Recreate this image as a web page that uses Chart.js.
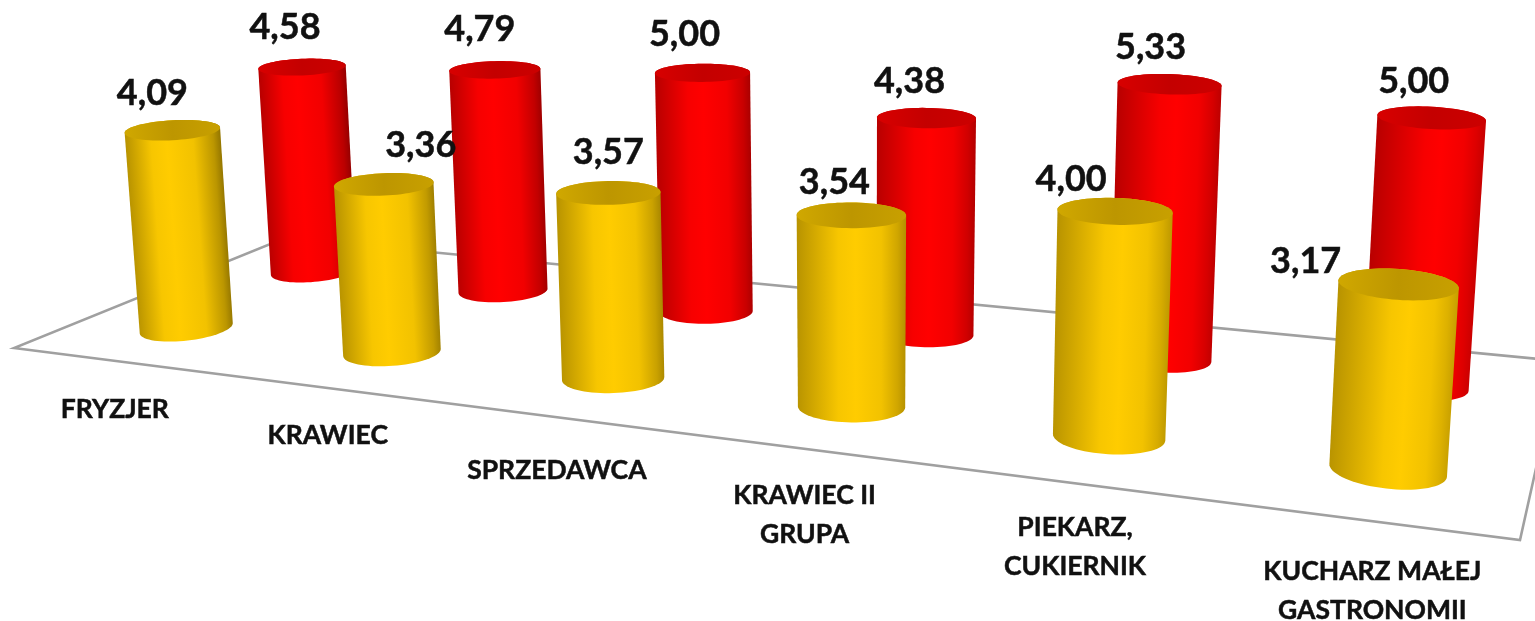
<!DOCTYPE html>
<html lang="pl">
<head>
<meta charset="utf-8">
<title>Wykres</title>
<style>html,body{margin:0;padding:0;background:#fff}canvas{display:block}</style>
<script src="https://cdn.jsdelivr.net/npm/chart.js@4/dist/chart.umd.js"></script>
</head>
<body>
<canvas id="c" width="1535" height="621"></canvas>
<script>
const categories = [['FRYZJER'],['KRAWIEC'],['SPRZEDAWCA'],['KRAWIEC II','GRUPA'],['PIEKARZ,','CUKIERNIK'],['KUCHARZ MAŁEJ','GASTRONOMII']];
const yellowValues = [4.09,3.36,3.57,3.54,4.00,3.17];
const redValues = [4.58,4.79,5.00,4.38,5.33,5.00];

/* --- layout and style, no data below this line --- */
const floorCorners = [[14,348],[1520,540],[285,238],[1560,361]]; // front-left, front-right, back-left, back-right
const vanishing = [859,9900];
const heightK = -0.031;
const seriesDepth = [0.25,0.75];
const radiusScale = 48;
const tickDepth = -0.25;
const tickNudge = [[87,14],[89,10],[86,13],[77,23],[62,15],[40,15]];
const tickGap = 39;
const valueNudge = [
  [[-20,-37],[37,-39],[0,-41],[-17,-33],[-44,-32],[-93,-23]],
  [[-17,-40],[-15,-40],[-18,-38],[-17,-37],[-19,-37],[-18,-37]]
];
const skins = [
  {rgb:[255,204,0],cap:['#d0a800','#bd9600','#c8a000']},
  {rgb:[255,0,0],cap:['#d80000','#c40000','#cc0000']}
];

const [P00,P10,P01,P11] = floorCorners;
const d1x=P10[0]-P11[0], d1y=P10[1]-P11[1], d2x=P01[0]-P11[0], d2y=P01[1]-P11[1];
const sx=P00[0]-P10[0]+P11[0]-P01[0], sy=P00[1]-P10[1]+P11[1]-P01[1];
const det=d1x*d2y-d2x*d1y;
const hg=(sx*d2y-d2x*sy)/det, hh=(d1x*sy-sx*d1y)/det;
const ha=P10[0]-P00[0]+hg*P10[0], hb=P01[0]-P00[0]+hh*P01[0], hc=P00[0];
const hd=P10[1]-P00[1]+hg*P10[1], he=P01[1]-P00[1]+hh*P01[1], hf=P00[1];
function project(u,v,h){
  const k=h*heightK;
  const W=hg*u+hh*v+1+k;
  return [(ha*u+hb*v+hc+k*vanishing[0])/W,(hd*u+he*v+hf+k*vanishing[1])/W,W];
}
function ring(c,h){
  const rx=radiusScale/c[2], ry=rx*(0.17+0.0003*c[1]);
  const T=(6.5-3.5*Math.min(1,h/0.7))*Math.PI/180;
  const tilt=(c[0]-790)/600*T, co=Math.cos(tilt), si=Math.sin(tilt);
  const pts=[];
  for(let i=0;i<72;i++){
    const t=i/72*Math.PI*2, ex=rx*Math.cos(t), ey=ry*Math.sin(t);
    pts.push([c[0]+ex*co-ey*si,c[1]+ex*si+ey*co]);
  }
  return pts;
}
function hull(points){
  const p=points.slice().sort((a,b)=>a[0]-b[0]||a[1]-b[1]);
  const cross=(o,a,b)=>(a[0]-o[0])*(b[1]-o[1])-(a[1]-o[1])*(b[0]-o[0]);
  const lo=[],up=[];
  for(const q of p){while(lo.length>1&&cross(lo[lo.length-2],lo[lo.length-1],q)<=0)lo.pop();lo.push(q);}
  for(const q of p.slice().reverse()){while(up.length>1&&cross(up[up.length-2],up[up.length-1],q)<=0)up.pop();up.push(q);}
  return lo.slice(0,-1).concat(up.slice(0,-1));
}
function poly(ctx,pts){ctx.beginPath();pts.forEach((q,i)=>i?ctx.lineTo(q[0],q[1]):ctx.moveTo(q[0],q[1]));ctx.closePath();}
function bandGradient(ctx,pts,dir,stops){
  const nx=dir[0],ny=dir[1];
  let mn=Infinity,mx=-Infinity;
  for(const q of pts){const s=q[0]*nx+q[1]*ny;if(s<mn)mn=s;if(s>mx)mx=s;}
  const g=ctx.createLinearGradient(nx*mn,ny*mn,nx*mx,ny*mx);
  stops.forEach(s=>g.addColorStop(s[0],s[1]));
  return g;
}
function shade(rgb,f){return 'rgb('+rgb.map(c=>Math.round(c*f)).join(',')+')';}
function bodyStops(rgb,t){
  return [
    [0,shade(rgb,0.72)],
    [0.25+0.22*t,shade(rgb,0.97)],
    [0.42+0.2*t,shade(rgb,1)],
    [0.7+0.12*t,shade(rgb,0.95)],
    [0.92,shade(rgb,0.72+0.16*t)],
    [1,shade(rgb,0.56+0.24*t)]
  ];
}
function categoryU(chart,i){const s=chart.scales.x;return (s.getPixelForValue(i)-s.left)/s.width;}
function markU(chart,i,v){
  const u=categoryU(chart,i);
  return u+(0.063-0.044*v)*u*(1-u)-0.002*(1-u)+(0.75-v)*0.005*u;
}
function barHeight(chart,el,u){return (el.base-el.y)/chart.scales.y.height*(0.985-0.03*u);}

class CylinderController extends Chart.BarController{
  draw(){
    const chart=this.chart,ctx=chart.ctx,skin=skins[this.index],v=seriesDepth[this.index];
    this.getMeta().data.forEach((el,i)=>{
      const u=markU(chart,i,v),h=barHeight(chart,el,u);
      const baseC=project(u,v,0),topC=project(u,v,h);
      const ax=topC[0]-baseC[0],ay=topC[1]-baseC[1],L=Math.hypot(ax,ay);
      const dir=[-ay/L,ax/L];
      const bottom=ring(baseC,0),top=ring(topC,h);
      const body=hull(bottom.concat(top));
      ctx.save();
      poly(ctx,body);
      ctx.fillStyle=bandGradient(ctx,body,dir,bodyStops(skin.rgb,u));
      ctx.fill();
      poly(ctx,top);
      ctx.fillStyle=bandGradient(ctx,top,dir,[[0,skin.cap[0]],[0.5,skin.cap[1]],[1,skin.cap[2]]]);
      ctx.fill();
      ctx.restore();
    });
  }
}
CylinderController.id='cylinder';
CylinderController.defaults=Chart.BarController.defaults;
CylinderController.overrides=Chart.BarController.overrides;
Chart.register(CylinderController);

const floorPlugin={id:'floor',beforeDatasetsDraw(chart){
  const ctx=chart.ctx;
  ctx.save();
  poly(ctx,[project(0,0,0),project(1,0,0),project(1,1,0),project(0,1,0)]);
  ctx.strokeStyle='#a0a0a0';ctx.lineWidth=2.6;ctx.lineJoin='miter';ctx.stroke();
  ctx.restore();
}};
function heavyText(ctx,t,x,y){ctx.fillText(t,x,y);ctx.strokeText(t,x,y);}
const textPlugin={id:'texts',afterDatasetsDraw(chart){
  const ctx=chart.ctx;
  ctx.save();
  ctx.textAlign='center';ctx.textBaseline='middle';ctx.fillStyle='#111';ctx.strokeStyle='#111';ctx.lineWidth=0.5;
  ctx.font='bold 36px Lato';
  chart.data.datasets.forEach((ds,d)=>{
    const v=seriesDepth[d];
    chart.getDatasetMeta(d).data.forEach((el,i)=>{
      const u=markU(chart,i,v);
      const p=project(u,v,barHeight(chart,el,u));
      const n=valueNudge[d][i];
      heavyText(ctx,ds.data[i].toFixed(2).replace('.',','),p[0]+n[0],p[1]+n[1]);
    });
  });
  ctx.font='bold 26.5px Lato';
  chart.data.labels.forEach((lines,i)=>{
    const p=project(categoryU(chart,i),tickDepth,0),n=tickNudge[i];
    const y0=p[1]+n[1]-(lines.length-1)*tickGap/2;
    lines.forEach((t,j)=>heavyText(ctx,t,p[0]+n[0],y0+j*tickGap));
  });
  ctx.restore();
}};

new Chart(document.getElementById('c'),{
  type:'cylinder',
  data:{labels:categories,datasets:[
    {label:'Seria 1',data:yellowValues,backgroundColor:'#ffcc00'},
    {label:'Seria 2',data:redValues,backgroundColor:'#ff0000'}
  ]},
  options:{
    responsive:false,animation:false,
    layout:{padding:0},
    plugins:{legend:{display:false},tooltip:{enabled:false},title:{display:false}},
    scales:{
      x:{type:'category',display:false,offset:true},
      y:{type:'linear',display:false,min:0,max:6}
    }
  },
  plugins:[floorPlugin,textPlugin]
});
</script>
</body>
</html>
